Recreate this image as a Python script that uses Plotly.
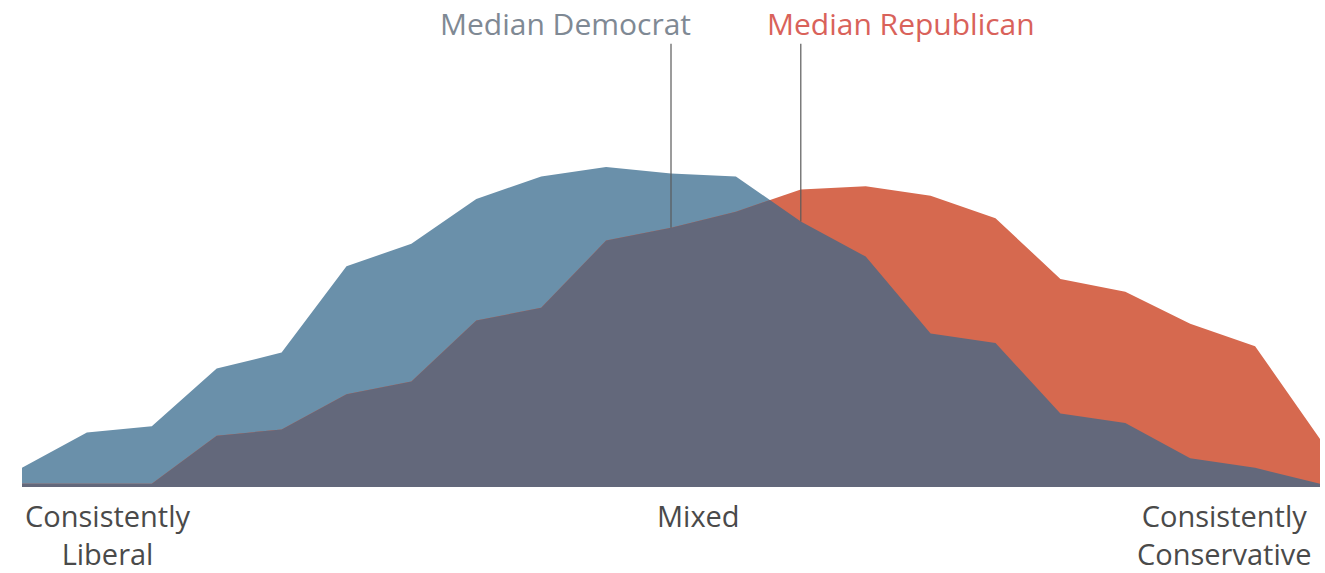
import numpy as np
import plotly.graph_objects as go

# Ideological consistency scale positions (0 = consistently liberal, 20 = consistently conservative)
scale_pos = list(range(21))
democrat = [0.6, 1.7, 1.9, 3.7, 4.2, 6.9, 7.6, 9.0, 9.7, 10.0, 9.8, 9.7, 8.3, 7.2, 4.8, 4.5, 2.3, 2.0, 0.9, 0.6, 0.1]
republican = [0.1, 0.1, 0.1, 1.6, 1.8, 2.9, 3.3, 5.2, 5.6, 7.7, 8.1, 8.6, 9.3, 9.4, 9.1, 8.4, 6.5, 6.1, 5.1, 4.4, 1.5]
median_dem = 10
median_rep = 12
median_labels = ["Median Democrat", "Median Republican"]
axis_labels = ["Consistently<br>Liberal", "Mixed", "Consistently<br>Conservative"]

BLUE = "#6a90aa"
RED = "#d6694f"
DARK = "#63687b"
FONT = "Open Sans"

# Overlap polygon: minimum of the two series, with crossing points inserted
ox, oy = [], []
for i in range(len(scale_pos)):
    ox.append(scale_pos[i]); oy.append(min(democrat[i], republican[i]))
    if i < len(scale_pos) - 1:
        d0 = democrat[i] - republican[i]
        d1 = democrat[i + 1] - republican[i + 1]
        if d0 * d1 < 0:
            t = d0 / (d0 - d1)
            ox.append(scale_pos[i] + t)
            oy.append(democrat[i] + t * (democrat[i + 1] - democrat[i]))

fig = go.Figure()
fig.add_trace(go.Scatter(x=scale_pos, y=democrat, mode="lines", fill="tozeroy",
                         fillcolor=BLUE, line=dict(width=0, color=BLUE), hoverinfo="skip"))
fig.add_trace(go.Scatter(x=scale_pos, y=republican, mode="lines", fill="tozeroy",
                         fillcolor=RED, line=dict(width=0, color=RED), hoverinfo="skip"))
fig.add_trace(go.Scatter(x=ox, y=oy, mode="lines", fill="tozeroy",
                         fillcolor=DARK, line=dict(width=0, color=DARK), hoverinfo="skip"))

line_top = 13.85
for m in (median_dem, median_rep):
    base = min(democrat[m], republican[m])
    fig.add_trace(go.Scatter(x=[m, m], y=[base, line_top], mode="lines",
                             line=dict(width=1.2, color="#5a5a5a"), hoverinfo="skip"))

annotations = [
    dict(x=8.38, y=0.951, xref="x", yref="paper", text=median_labels[0], showarrow=False,
         font=dict(family=FONT, size=30, color="#7f8994"), xanchor="center", yanchor="middle"),
    dict(x=13.54, y=0.951, xref="x", yref="paper", text=median_labels[1], showarrow=False,
         font=dict(family=FONT, size=30, color="#d9625a"), xanchor="center", yanchor="middle"),
]
label_centers = [1.33, 10.42, 18.52]
for cx, txt in zip(label_centers, axis_labels):
    annotations.append(dict(x=cx, y=-0.014, xref="x", yref="paper", text=txt,
                            showarrow=False, xanchor="center", yanchor="top", align="center",
                            font=dict(family=FONT, size=29, color="#4a4a4a")))

fig.update_layout(
    width=1325, height=573,
    margin=dict(l=22, r=5, t=0, b=86),
    paper_bgcolor="white", plot_bgcolor="white",
    showlegend=False,
    xaxis=dict(range=[0, 20], visible=False, fixedrange=True),
    yaxis=dict(range=[0, 487 / 32], visible=False, fixedrange=True),
    annotations=annotations,
)
fig.write_html("out.html", config={"displayModeBar": False},
               post_script="document.body.style.margin='0';document.body.style.overflow='hidden';")
